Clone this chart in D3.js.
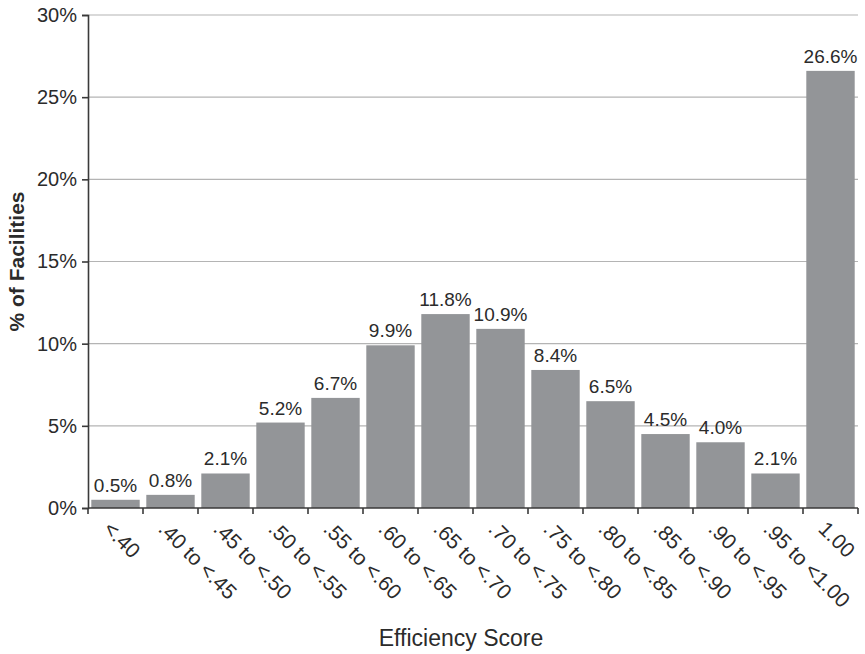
<!DOCTYPE html>
<html>
<head>
<meta charset="utf-8">
<script src="https://cdn.jsdelivr.net/npm/d3@7"></script>
<style>
  body { margin: 0; background: #fff; }
  text { font-family: "Liberation Sans", Arial, sans-serif; fill: #2b2b2b; }
</style>
</head>
<body>
<svg id="chart" width="865" height="654"></svg>
<script>
// chart data
var categories = ["<.40", ".40 to <.45", ".45 to <.50", ".50 to <.55", ".55 to <.60", ".60 to <.65",
  ".65 to <.70", ".70 to <.75", ".75 to <.80", ".80 to <.85", ".85 to <.90", ".90 to <.95",
  ".95 to <1.00", "1.00"];
var shares = [0.5, 0.8, 2.1, 5.2, 6.7, 9.9, 11.8, 10.9, 8.4, 6.5, 4.5, 4.0, 2.1, 26.6];
var yTicks = [0, 5, 10, 15, 20, 25, 30];

var svg = d3.select("#chart");
var plotLeft = 88, plotRight = 858, plotTop = 15, plotBottom = 508;

var x = d3.scaleBand().domain(categories).range([plotLeft, plotRight]).paddingInner(0.12).paddingOuter(0.06);
var y = d3.scaleLinear().domain([0, 30]).range([plotBottom, plotTop]);
var step = (plotRight - plotLeft) / categories.length;

/**
Gridlines
*/
svg.append("g").selectAll("line")
  .data(yTicks.filter(function(d){ return d > 0; }))
  .enter().append("line")
  .attr("x1", plotLeft).attr("x2", plotRight)
  .attr("y1", function(d){ return y(d); })
  .attr("y2", function(d){ return y(d); })
  .style("stroke", "#b4b4b4")
  .style("stroke-width", "1.2px");

/**
Bars
*/
svg.append("g").selectAll("rect")
  .data(shares)
  .enter().append("rect")
  .attr("x", function(d,i){ return x(categories[i]); })
  .attr("width", x.bandwidth())
  .attr("y", function(d){ return y(d); })
  .attr("height", function(d){ return y(0) - y(d); })
  .style("fill", "#939598");

svg.append("g").selectAll("text")
  .data(shares)
  .enter().append("text")
  .attr("x", function(d,i){ return x(categories[i]) + x.bandwidth() / 2; })
  .attr("y", function(d){ return y(d) - 8; })
  .attr("text-anchor", "middle")
  .style("font-size", "19px")
  .text(function(d){ return d.toFixed(1) + "%"; });

/**
Axes
*/
var yAxis = svg.append("g")
  .attr("transform", "translate(" + plotLeft + ",0)")
  .call(d3.axisLeft(y).tickValues(yTicks).tickSize(6).tickPadding(5)
    .tickFormat(function(d){ return d + "%"; }));
yAxis.selectAll("text").style("font-size", "20px").style("font-family", "Liberation Sans, Arial, sans-serif").style("fill", "#2b2b2b");
yAxis.selectAll("line, path").style("stroke", "#3a3a3a").style("stroke-width", "1.6px");

var xAxis = svg.append("g");
xAxis.append("line")
  .attr("x1", plotLeft).attr("x2", plotRight)
  .attr("y1", plotBottom).attr("y2", plotBottom)
  .style("stroke", "#3a3a3a").style("stroke-width", "1.6px");
xAxis.selectAll("line.tick")
  .data(d3.range(categories.length + 1))
  .enter().append("line")
  .attr("class", "tick")
  .attr("x1", function(i){ return plotLeft + i * step; })
  .attr("x2", function(i){ return plotLeft + i * step; })
  .attr("y1", plotBottom).attr("y2", plotBottom + 6)
  .style("stroke", "#3a3a3a").style("stroke-width", "1.6px");

xAxis.selectAll("text")
  .data(categories)
  .enter().append("text")
  .attr("transform", function(d){
    return "translate(" + (x(d) + x.bandwidth() / 2 - 8) + "," + (plotBottom + 17) + ") rotate(45)";
  })
  .attr("dy", "0.35em")
  .attr("text-anchor", "start")
  .style("font-size", "21px")
  .text(function(d){ return d; });

/**
Axis titles
*/
svg.append("text")
  .attr("x", 461)
  .attr("y", 646)
  .attr("text-anchor", "middle")
  .style("font-size", "23px")
  .text("Efficiency Score");

svg.append("text")
  .attr("transform", "translate(24," + (plotTop + plotBottom) / 2 + ") rotate(-90)")
  .attr("text-anchor", "middle")
  .style("font-size", "21px")
  .style("font-weight", "bold")
  .text("% of Facilities");
</script>
</body>
</html>
